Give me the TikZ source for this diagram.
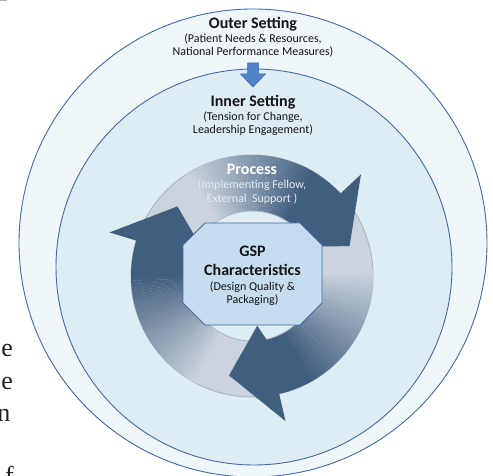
\documentclass[tikz,border=0pt]{standalone}
\usepackage{fontspec}
\setmainfont{Carlito}
\newfontfamily\pageserif{Liberation Serif}
\definecolor{outerfill}{RGB}{240,247,250}
\definecolor{innerfill}{RGB}{222,237,244}
\definecolor{circleline}{RGB}{66,106,172}
\definecolor{downfill}{RGB}{80,130,200}
\definecolor{downline}{RGB}{62,105,175}
\definecolor{ringgray}{RGB}{203,211,221}
\definecolor{ringedge}{RGB}{172,184,200}
\definecolor{arrowdark}{RGB}{64,94,126}
\definecolor{octfill}{RGB}{198,221,240}
\definecolor{octline}{RGB}{70,105,165}
\definecolor{textblack}{RGB}{20,20,20}
\definecolor{proclight}{RGB}{230,236,243}
\definecolor{pagetext}{RGB}{35,31,32}
\begin{document}
\begin{tikzpicture}[x=1pt,y=1pt,
  titletext/.style={font=\fontsize{16}{19}\selectfont\bfseries, text=textblack, inner sep=0pt, anchor=base},
  subtext/.style={font=\fontsize{12}{14}\selectfont, text=textblack, inner sep=0pt, anchor=base},
  pagefrag/.style={font=\pageserif\fontsize{26}{33}\selectfont, text=pagetext, inner sep=0pt, anchor=base east}]
\useasboundingbox (0,0) rectangle (493,476);
% tiny mark at top-left
\fill[gray!60] (0,475) rectangle (7,476);
% outer and inner setting circles
\filldraw[fill=outerfill, draw=circleline, line width=0.9pt] (253,233) circle[radius=234];
\filldraw[fill=innerfill, draw=circleline, line width=0.9pt] (254,209) circle[radius=198];
% down arrow
\filldraw[fill=downfill, draw=downline, line width=0.5pt, line join=miter]
  (247.5,413) -- (258.5,413) -- (258.5,402) -- (265.5,402) -- (253,389) -- (240.5,402) -- (247.5,402) -- cycle;
% process ring
\begin{scope}[shift={(252,200)}]
  \fill[ringgray, even odd rule] (0,0) circle[radius=121pt] (0,0) circle[radius=65pt];
  \draw[ringedge, line width=1pt] (0,0) circle[radius=121pt];
  \draw[ringedge, line width=1pt] (0,0) circle[radius=65pt];
  \foreach \th in {43,163,283} {
    \foreach \i in {0,...,39} {
      \pgfmathsetmacro\a{\th+16+\i*1.6}
      \pgfmathsetmacro\b{\a+1.7}
      \pgfmathsetmacro\p{100-\i*100/39}
      \fill[arrowdark!\p!ringgray] (\a:65.5pt) arc[start angle=\a, end angle=\b, radius=65.5pt]
        -- (\b:121pt) arc[start angle=\b, end angle=\a, radius=121pt] -- cycle;
    }
    \pgfmathsetmacro\s{\th+16.3}
    \pgfmathsetmacro\ib{\th-7}
    \pgfmathsetmacro\tp{\th-26}
    \fill[arrowdark] (\s:65.5pt) arc[start angle=\s, end angle=\th, radius=65.5pt]
      -- (\ib:50pt) -- (\tp:102pt) -- (\th:149pt) -- (\th:121pt)
      arc[start angle=\th, end angle=\s, radius=121pt] -- cycle;
  }
\end{scope}
% octagon
\filldraw[fill=octfill, draw=octline, line width=0.9pt, line join=miter]
  (205,253) -- (300,253) -- (322,231) -- (322,173) -- (300,151) -- (205,151) -- (183,173) -- (183,231) -- cycle;
% texts
\node[titletext] (outerT) at (253,447) {Outer Setting};
\node[subtext] (outerS1) at (253,433) {(Patient Needs \& Resources,};
\node[subtext] (outerS2) at (253,420) {National Performance Measures)};
\node[titletext] (innerT) at (253,369) {Inner Setting};
\node[subtext] (innerS1) at (253,355) {(Tension for Change,};
\node[subtext] (innerS2) at (253,342) {Leadership Engagement)};
\node[titletext, text=white] (procT) at (252,301) {Process};
\node[subtext, text=proclight] (procS1) at (252,287) {(Implementing Fellow,};
\node[subtext, text=proclight] (procS2) at (252,273) {External\ \ Support )};
\node[titletext] (gspT1) at (252.5,219) {GSP};
\node[titletext] (gspT2) at (252.5,200) {Characteristics};
\node[subtext] (gspS1) at (252.5,185) {(Design Quality \&};
\node[subtext] (gspS2) at (252.5,172) {Packaging)};
% fragments of page text at left edge
\node[pagefrag] (frag1) at (13,119.5) {e};
\node[pagefrag] (frag2) at (13,86.5) {e};
\node[pagefrag] (frag3) at (10.5,54) {n};
\node[pagefrag] (frag4) at (14,-9) {f};
\end{tikzpicture}
\end{document}
